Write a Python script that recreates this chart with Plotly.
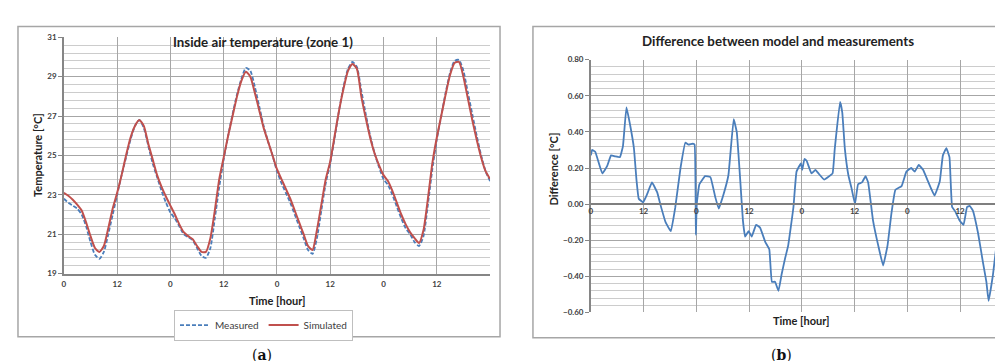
import plotly.graph_objects as go

# ---------------- data ----------------
hours = list(range(0, 97))
measured = [
    22.8, 22.6, 22.45, 22.3, 22.0, 21.4, 20.6, 19.95, 19.75, 20.1, 21.0, 22.0,
    23.0, 24.0, 24.9, 25.8, 26.5, 26.8, 26.4, 25.5, 24.6, 23.9, 23.2, 22.6,
    22.1, 21.8, 21.4, 21.0, 20.85, 20.7, 20.3, 19.9, 19.8, 20.3, 21.8, 23.4,
    24.8, 26.0, 27.1, 28.1, 28.9, 29.45, 29.3, 28.5, 27.5, 26.5, 25.7, 25.0,
    24.2, 23.6, 23.1, 22.6, 22.0, 21.4, 20.8, 20.2, 20.0, 20.8, 22.2, 23.6,
    24.6, 25.9, 27.3, 28.5, 29.4, 29.75, 29.5, 28.3, 27.1, 26.0, 25.1, 24.4,
    23.8, 23.5, 23.0, 22.4, 21.8, 21.3, 21.0, 20.6, 20.4, 20.9, 22.5, 24.3,
    25.8, 27.0, 28.2, 29.2, 29.8, 29.85, 29.3, 28.2, 27.1, 26.0, 25.0, 24.2,
    23.7,
]
simulated = [
    23.1, 22.95, 22.75, 22.5, 22.2, 21.6, 20.9, 20.3, 20.1, 20.4, 21.3, 22.3,
    23.1, 24.0, 25.0, 25.9, 26.5, 26.8, 26.5, 25.6, 24.8, 24.0, 23.4, 22.9,
    22.45, 22.0, 21.5, 21.1, 20.9, 20.75, 20.4, 20.1, 20.1, 20.8, 22.2, 23.8,
    24.9, 26.0, 27.0, 28.0, 28.8, 29.25, 29.0, 28.2, 27.3, 26.4, 25.7, 25.0,
    24.3, 23.8, 23.3, 22.8, 22.2, 21.6, 21.0, 20.4, 20.2, 21.2, 22.5, 23.8,
    24.7, 26.0, 27.3, 28.4, 29.3, 29.65, 29.4, 28.0, 26.9, 25.9, 25.1, 24.5,
    24.0, 23.7, 23.2, 22.6, 22.0, 21.5, 21.1, 20.8, 20.55, 21.2, 22.8, 24.6,
    25.9, 27.0, 28.1, 29.1, 29.7, 29.75, 29.0, 27.9, 26.8, 25.8, 24.9, 24.2,
    23.8,
]

diff_hours = [
    0.0, 0.3, 1.0, 2.6, 3.7, 4.6, 5.5, 6.6, 7.3, 8.1, 9.0, 9.8, 10.4, 10.9,
    11.9, 12.8, 13.9, 15.1, 15.8, 17.0, 18.2, 19.2, 20.4, 21.5, 22.2, 23.2,
    23.6, 23.9, 24.1, 24.7, 26.0, 27.2, 28.3, 29.1, 30.2, 31.3, 32.5, 33.2,
    34.0, 34.6, 35.1, 35.9, 36.6, 37.6, 38.5, 39.7, 40.6, 41.2, 41.9, 42.7,
    43.4, 44.2, 44.9, 46.1, 46.8, 47.8, 48.1, 48.6, 49.1, 50.2, 51.1, 51.8,
    53.1, 54.0, 55.0, 55.5, 56.7, 57.2, 57.8, 58.6, 59.3, 60.1, 60.8, 61.7,
    62.5, 63.1, 64.2, 65.4, 66.5, 67.5, 68.4, 69.3, 70.7, 71.8, 72.9, 73.7,
    74.6, 75.6, 76.7, 78.2, 79.4, 80.1, 80.9, 81.6, 82.2, 82.9, 83.9, 84.8,
    85.6, 86.2, 86.9, 88.1, 89.2, 90.0, 90.5, 91.5, 92.6, 93.8, 94.9, 95.6,
]
diff_values = [
    0.27, 0.30, 0.29, 0.17, 0.21, 0.27, 0.265, 0.26, 0.32, 0.536, 0.43, 0.31,
    0.13, 0.03, 0.01, 0.055, 0.12, 0.065, 0.0, -0.10, -0.15, -0.02, 0.20, 0.34,
    0.33, 0.335, 0.33, -0.17, 0.0, 0.11, 0.155, 0.15, 0.04, -0.025, 0.055, 0.16,
    0.47, 0.40, 0.13, -0.09, -0.18, -0.15, -0.18, -0.115, -0.13, -0.21, -0.25,
    -0.43, -0.43, -0.48, -0.39, -0.30, -0.23, -0.016, 0.18, 0.226, 0.19, 0.25,
    0.24, 0.17, 0.19, 0.17, 0.136, 0.15, 0.17, 0.306, 0.566, 0.51, 0.306, 0.16,
    0.09, 0.0, 0.11, 0.12, 0.155, 0.12, -0.09, -0.23, -0.34, -0.23, -0.05,
    0.08, 0.10, 0.18, 0.20, 0.18, 0.217, 0.19, 0.127, 0.047, 0.127, 0.27, 0.31,
    0.26, -0.016, -0.04, -0.09, -0.115, -0.016, -0.01, -0.034, -0.16, -0.32,
    -0.43, -0.536, -0.39, -0.16, 0.09, 0.235, 0.26,
]

tick_hours = [0, 12, 24, 36, 48, 60, 72, 84, 96]
tick_labels = ["0", "12", "0", "12", "0", "12", "0", "12", ""]

W, H = 1003, 361


def px_x(p):
    return p / W


def px_y(p):
    return 1 - p / H


FONT = "Lato"
TXT = "#404040"
GRID_MAJ = "#a6a6a6"
GRID_MIN = "#cccccc"
AXIS = "#868686"

fig = go.Figure()
fig.add_trace(go.Scatter(
    x=hours, y=measured, name="Measured", mode="lines",
    line=dict(color="#4a7ebb", width=1.8, dash="4px,2px", shape="spline", smoothing=0.6),
    xaxis="x", yaxis="y"))
fig.add_trace(go.Scatter(
    x=hours, y=simulated, name="Simulated", mode="lines",
    line=dict(color="#c0504d", width=2, shape="spline", smoothing=0.6),
    xaxis="x", yaxis="y"))
fig.add_trace(go.Scatter(
    x=diff_hours, y=diff_values, name="Difference", mode="lines", showlegend=False,
    line=dict(color="#4a7ebb", width=1.8, shape="spline", smoothing=0.3),
    xaxis="x2", yaxis="y2"))

tickfont = dict(family=FONT, size=8, color=TXT, weight="bold")

y2_dom = [px_y(308), px_y(48)]
y2_rng = [-0.6, 0.8]
zero_pos = y2_dom[0] + (0 - y2_rng[0]) / (y2_rng[1] - y2_rng[0]) * (y2_dom[1] - y2_dom[0])

fig.update_layout(
    width=W, height=H, margin=dict(l=0, r=0, t=0, b=0),
    paper_bgcolor="white", plot_bgcolor="white",
    font=dict(family=FONT, color=TXT),
    xaxis=dict(domain=[px_x(54), px_x(481)], range=[0, 96], anchor="y",
               tickmode="array", tickvals=tick_hours, ticktext=tick_labels,
               showgrid=True, gridcolor=GRID_MAJ, gridwidth=1,
               showline=True, linecolor=AXIS, linewidth=1.5, zeroline=False,
               ticks="", tickfont=tickfont, ticklabelstandoff=2),
    yaxis=dict(domain=[px_y(268), px_y(25)], range=[19, 31], anchor="x",
               tick0=19, dtick=2, showgrid=True, gridcolor=GRID_MAJ,
               minor=dict(dtick=0.4, tick0=19, showgrid=True, gridcolor=GRID_MIN),
               showline=True, linecolor=AXIS, linewidth=1.5, zeroline=False,
               ticks="outside", ticklen=4, tickcolor=AXIS, tickfont=tickfont),
    xaxis2=dict(domain=[px_x(582), 1.0], range=[0, 95.6], anchor="free",
                position=zero_pos,
                tickmode="array", tickvals=tick_hours, ticktext=tick_labels,
                showgrid=True, gridcolor=GRID_MAJ, gridwidth=1,
                showline=True, linecolor="#7f7f7f", linewidth=1.5, zeroline=False,
                ticks="", tickfont=tickfont, ticklabelstandoff=0),
    yaxis2=dict(domain=y2_dom, range=y2_rng, anchor="x2",
                tick0=-0.6, dtick=0.2, tickformat=".2f", showgrid=True,
                gridcolor=GRID_MAJ,
                minor=dict(dtick=0.04, tick0=-0.6, showgrid=True, gridcolor=GRID_MIN),
                showline=True, linecolor=AXIS, linewidth=1.5, zeroline=False,
                ticks="outside", ticklen=4, tickcolor=AXIS, tickfont=tickfont),
    legend=dict(orientation="h", x=px_x(254), y=px_y(321),
                xanchor="center", yanchor="middle",
                bordercolor="#bfbfbf", borderwidth=1, bgcolor="white",
                font=dict(family=FONT, size=10, color=TXT),
                itemwidth=30, tracegroupgap=0),
    showlegend=True,
)

shapes = [
    dict(type="rect", xref="paper", yref="paper",
         x0=px_x(8), x1=px_x(491), y0=px_y(333), y1=px_y(14),
         line=dict(color="#a6a6a6", width=1.5), layer="below"),
    dict(type="rect", xref="paper", yref="paper",
         x0=px_x(524), x1=px_x(1012), y0=px_y(334), y1=px_y(14),
         line=dict(color="#a6a6a6", width=1.5), layer="below"),
]
fig.update_layout(shapes=shapes)

ann = []
ann.append(dict(text="<b>Inside air temperature (zone 1)</b>", x=px_x(254), y=px_y(30),
                font=dict(family=FONT, size=13.3, color="#222222")))
ann.append(dict(text="<b>Difference between model and measurements</b>", x=px_x(770), y=px_y(29),
                font=dict(family=FONT, size=13.3, color="#222222")))
ann.append(dict(text="<b>Temperature [°C]</b>", x=px_x(28), y=px_y(146), textangle=-90,
                font=dict(family=FONT, size=11, color="#222222")))
ann.append(dict(text="<b>Difference [°C]</b>", x=px_x(545), y=px_y(160), textangle=-90,
                font=dict(family=FONT, size=11, color="#222222")))
ann.append(dict(text="<b>Time [hour]</b>", x=px_x(268), y=px_y(296),
                font=dict(family=FONT, size=11, color="#222222")))
ann.append(dict(text="<b>Time [hour]</b>", x=px_x(793), y=px_y(316),
                font=dict(family=FONT, size=11, color="#222222")))
ann.append(dict(text="(<b>a</b>)", x=px_x(253), y=px_y(352),
                font=dict(family="DejaVu Serif", size=14, color="#111111")))
ann.append(dict(text="(<b>b</b>)", x=px_x(773), y=px_y(352),
                font=dict(family="DejaVu Serif", size=14, color="#111111")))
for a in ann:
    a.update(xref="paper", yref="paper", showarrow=False, xanchor="center", yanchor="middle")
fig.update_layout(annotations=ann)

fig.write_html("out.html")
